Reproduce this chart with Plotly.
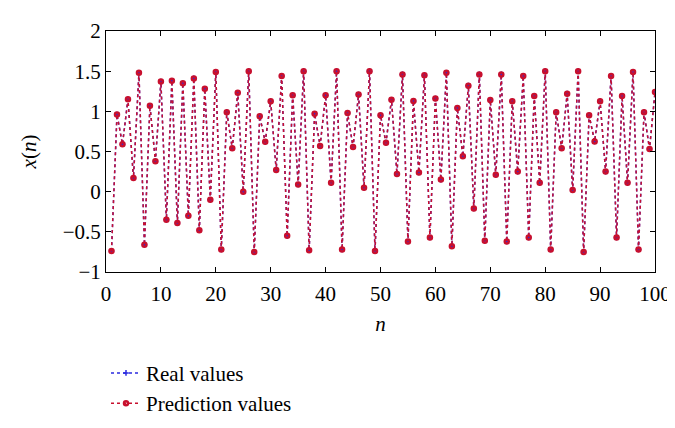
import plotly.graph_objects as go

# sample index n = 1..100
n_vals = list(range(1, 101))

# real series x(n) (prediction overlaps it almost exactly)
real_x = [
    -0.74, 0.96, 0.59, 1.15, 0.17, 1.48, -0.66, 1.07, 0.38, 1.37,
    -0.35, 1.38, -0.39, 1.35, -0.30, 1.41, -0.48, 1.28, -0.10, 1.49,
    -0.72, 0.99, 0.54, 1.23, 0.00, 1.50, -0.75, 0.94, 0.62, 1.125,
    0.27, 1.44, -0.55, 1.20, 0.09, 1.50, -0.73, 0.97, 0.57, 1.20,
    0.11, 1.50, -0.72, 0.98, 0.555, 1.21, 0.05, 1.50, -0.74, 0.95,
    0.61, 1.145, 0.22, 1.46, -0.62, 1.13, 0.24, 1.45, -0.57, 1.16,
    0.15, 1.48, -0.68, 1.04, 0.44, 1.32, -0.21, 1.46, -0.61, 1.14,
    0.21, 1.46, -0.62, 1.125, 0.25, 1.44, -0.57, 1.19, 0.11, 1.50,
    -0.72, 0.99, 0.54, 1.22, 0.02, 1.50, -0.75, 0.95, 0.625, 1.125,
    0.25, 1.44, -0.57, 1.19, 0.11, 1.49, -0.72, 0.99, 0.53, 1.24,
]
pred_x = [
    -0.74, 0.96, 0.59, 1.15, 0.17, 1.48, -0.66, 1.07, 0.38, 1.37,
    -0.35, 1.38, -0.39, 1.35, -0.30, 1.41, -0.48, 1.28, -0.10, 1.49,
    -0.72, 0.99, 0.54, 1.23, 0.00, 1.50, -0.75, 0.94, 0.62, 1.125,
    0.27, 1.44, -0.55, 1.20, 0.09, 1.50, -0.73, 0.97, 0.57, 1.20,
    0.11, 1.50, -0.72, 0.98, 0.555, 1.21, 0.05, 1.50, -0.74, 0.95,
    0.61, 1.145, 0.22, 1.46, -0.62, 1.13, 0.24, 1.45, -0.57, 1.16,
    0.15, 1.48, -0.68, 1.04, 0.44, 1.32, -0.21, 1.46, -0.61, 1.14,
    0.21, 1.46, -0.62, 1.125, 0.25, 1.44, -0.57, 1.19, 0.11, 1.50,
    -0.72, 0.99, 0.54, 1.22, 0.02, 1.50, -0.75, 0.95, 0.625, 1.125,
    0.25, 1.44, -0.57, 1.19, 0.11, 1.49, -0.72, 0.99, 0.53, 1.24,
]

x_ticks = list(range(0, 101, 10))
y_ticks = [-1, -0.5, 0, 0.5, 1, 1.5, 2]
y_labels = ["\u22121", "\u22120.5", "0", "0.5", "1", "1.5", "2"]

FONT = "Liberation Serif, 'Times New Roman', Times, serif"

fig = go.Figure()
fig.add_trace(go.Scatter(
    x=n_vals, y=real_x, name="Real values", mode="lines+markers",
    line=dict(color="#2a2ae0", width=1.5, dash="dot"),
    marker=dict(symbol="cross-thin", size=4, line=dict(color="#2a2ae0", width=1.5)),
))
fig.add_trace(go.Scatter(
    x=n_vals, y=pred_x, name="Prediction values", mode="lines+markers",
    line=dict(color="#c8102e", width=1.5, dash="dot"),
    marker=dict(symbol="circle-open", size=4, line=dict(color="#e0101e", width=2.5)),
))

axis_common = dict(
    showline=True, linecolor="black", linewidth=1, mirror="ticks",
    ticks="inside", ticklen=5, tickcolor="black", tickwidth=1,
    showgrid=False, zeroline=False,
    tickfont=dict(family=FONT, size=21, color="black"),
)
fig.update_xaxes(range=[0, 100], tickvals=x_ticks, ticklabelstandoff=3,
                 title=dict(text="<i>n</i>", font=dict(family=FONT, size=21, color="black"),
                            standoff=11),
                 **axis_common)
fig.update_yaxes(range=[-1, 2], tickvals=y_ticks, ticktext=y_labels,
                 title=dict(text="<i>x</i>(<i>n</i>)", font=dict(family=FONT, size=21, color="black"),
                            standoff=20),
                 **axis_common)

fig.update_layout(
    width=675, height=428,
    margin=dict(l=98, r=28, t=23, b=149),
    plot_bgcolor="white", paper_bgcolor="white",
    font=dict(family=FONT, color="black"),
    legend=dict(x=0.0, y=-0.335, xanchor="left", yanchor="top",
                font=dict(family=FONT, size=21, color="black"),
                bgcolor="rgba(0,0,0,0)", tracegroupgap=0, itemwidth=30),
)

fig.write_html("out.html")
